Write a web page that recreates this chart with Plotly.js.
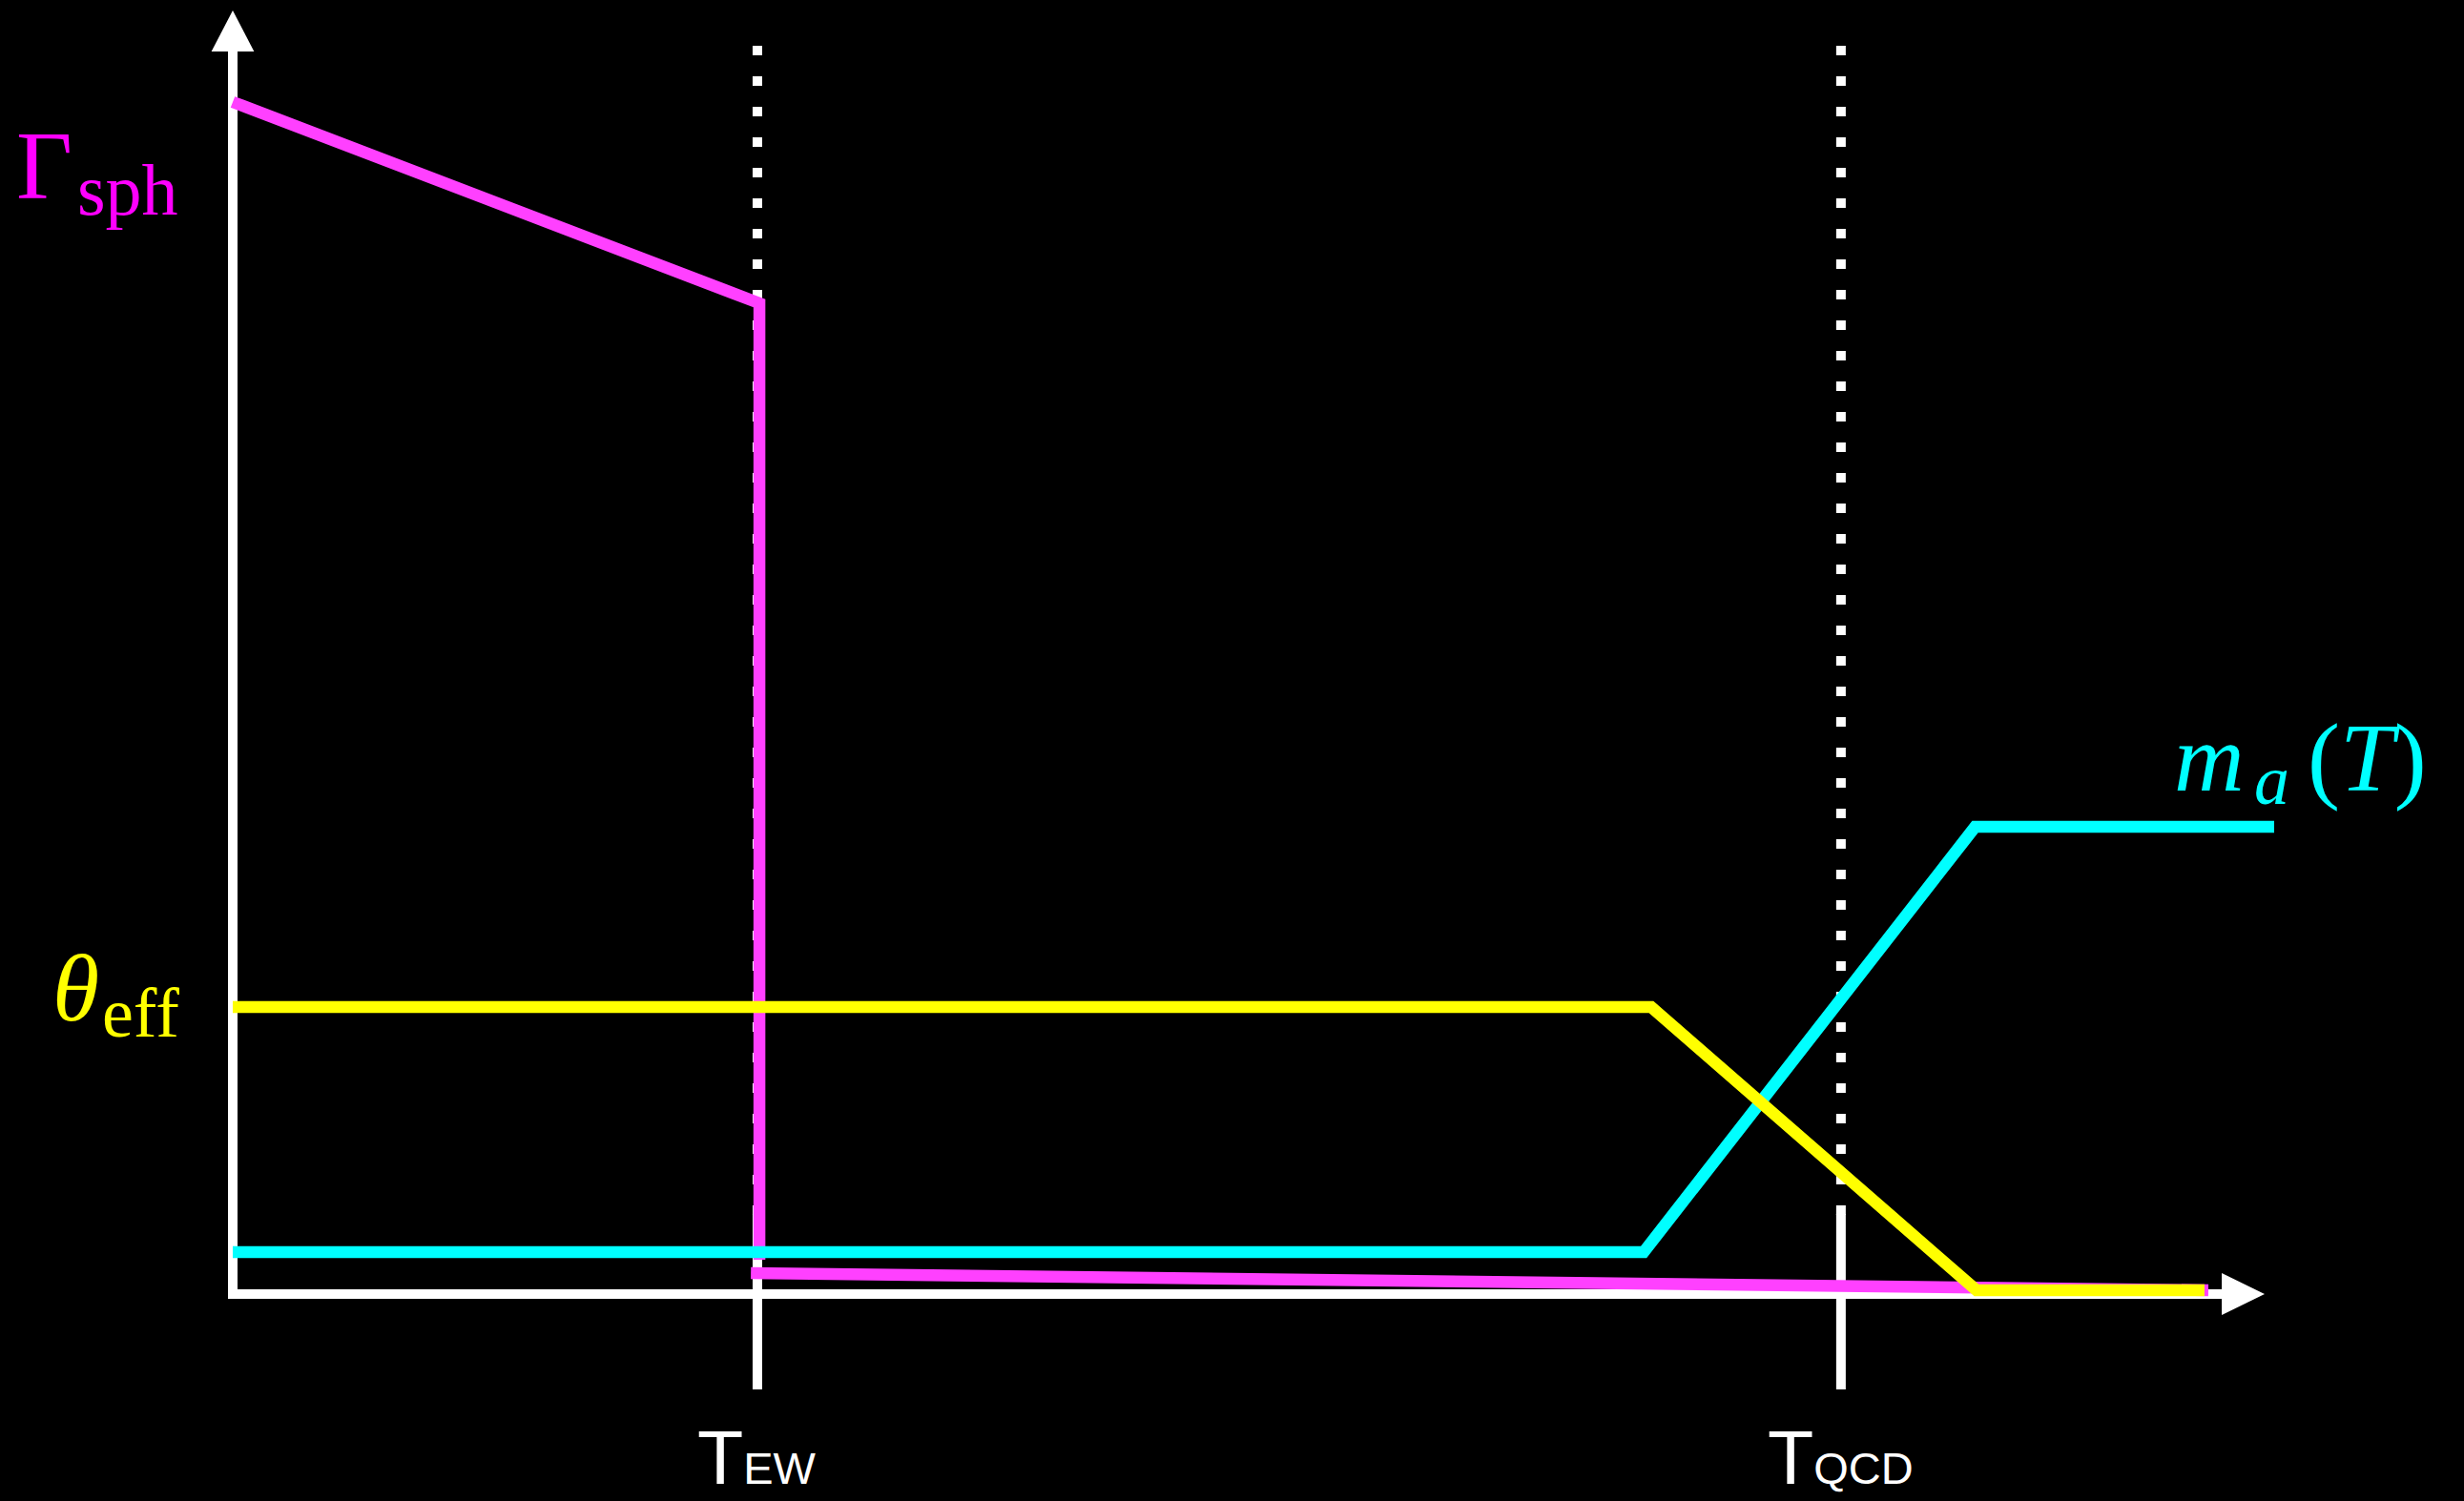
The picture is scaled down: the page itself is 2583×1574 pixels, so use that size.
<!DOCTYPE html>
<html>
<head>
<meta charset="utf-8">
<script src="https://cdn.plot.ly/plotly-3.0.1.min.js"></script>
<style>
  html, body { margin: 0; padding: 0; background: #000; }
  #chart { width: 2583px; height: 1574px; }
</style>
</head>
<body>
<div id="chart"></div>
<script>
// ---- data (arbitrary schematic units: axes run 0..100) ----
const sphHighX = [0, 25.92, 25.92];
const sphHighY = [92.87, 77.19, 2.67];
const sphLowX  = [25.5, 97.23];
const sphLowY  = [1.63, 0.30];

const massX = [0, 69.44, 85.75, 100.47];
const massY = [3.27, 3.27, 36.4, 36.4];

const thetaX = [0, 69.81, 85.82, 97.04];
const thetaY = [22.36, 22.36, 0.30, 0.30];

const tickVals = [25.82, 79.15];
const tickMain = ["T", "T"];
const tickSubs = ["EW", "QCD"];

// ---- styling ----
const MAGENTA = "#ff40ff";
const CYAN = "#00ffff";
const YELLOW = "#ffff00";
const LW = 12.5;

const traces = [
  {x: sphHighX, y: sphHighY, mode: "lines", line: {color: MAGENTA, width: LW}, hoverinfo: "skip"},
  {x: sphLowX, y: sphLowY, mode: "lines", line: {color: MAGENTA, width: LW}, hoverinfo: "skip"},
  {x: massX, y: massY, mode: "lines", line: {color: CYAN, width: LW}, hoverinfo: "skip"},
  {x: thetaX, y: thetaY, mode: "lines", line: {color: YELLOW, width: LW}, hoverinfo: "skip"}
];

const AX_END = 100;
const shapes = [
  // y axis stem + arrow head
  {type: "line", xref: "x", yref: "y", x0: 0, x1: 0, y0: -0.37, y1: 97.2, line: {color: "white", width: 10}, layer: "below"},
  {type: "path", xref: "x", yref: "y", path: "M -1.05,96.8 L 1.05,96.8 L 0," + AX_END + " Z", fillcolor: "white", line: {width: 0}, layer: "below"},
  // x axis stem + arrow head
  {type: "line", xref: "x", yref: "y", x0: -0.23, x1: 98.0, y0: 0, y1: 0, line: {color: "white", width: 10}, layer: "below"},
  {type: "path", xref: "x", yref: "y", path: "M 97.89,-1.64 L 97.89,1.64 L " + AX_END + ",0 Z", fillcolor: "white", line: {width: 0}, layer: "below"}
];
tickVals.forEach(v => {
  shapes.push({type: "line", xref: "x", yref: "y", x0: v, x1: v, y0: 97.25, y1: 6.17,
               line: {color: "white", width: 10, dash: "10px,22px"}, layer: "below"});
  shapes.push({type: "line", xref: "x", yref: "y", x0: v, x1: v, y0: 6.24, y1: -7.43,
               line: {color: "white", width: 10}, layer: "below"});
});

const W = 2583, H = 1574;
const py = p => 1 - p / H;
const px = p => p / W;
const serif = "Liberation Serif, Times New Roman, serif";

const annotations = [];
tickVals.forEach((v, i) => {
  annotations.push({
    x: v, xref: "x", y: 0, yref: "paper", xanchor: "center", yanchor: "bottom",
    showarrow: false, borderpad: 0,
    text: tickMain[i] + '<span style="font-size:47px">' + tickSubs[i] + '</span>',
    font: {family: "Liberation Sans, Arial, sans-serif", size: 79, color: "white"}
  });
});
function lab(text, xp, yp, size, color) {
  annotations.push({x: px(xp), xref: "paper", y: py(yp), yref: "paper", xanchor: "left", yanchor: "middle",
    showarrow: false, text: text, font: {family: serif, size: size, color: color}, borderpad: 0});
}
// Gamma_sph
lab("Γ", 16, 173, 102, "#ff00ff");
lab("sph", 80, 199, 76, "#ff00ff");
// theta_eff
lab("<i>θ</i>", 54, 1036, 100, YELLOW);
lab("eff", 106, 1062, 74, YELLOW);
// m_a(T)
lab("<i>m</i>", 2278, 794, 102, CYAN);
lab("<i>a</i>", 2362, 818, 74, CYAN);
lab("(<i>T</i>)", 2418, 794, 102, CYAN);

const layout = {
  width: W, height: H,
  margin: {l: 0, r: 0, t: 0, b: 0, pad: 0},
  paper_bgcolor: "#000", plot_bgcolor: "#000",
  showlegend: false,
  xaxis: {range: [-11.455, 109.813], visible: false, fixedrange: true},
  yaxis: {range: [-16.122, 100.817], visible: false, fixedrange: true},
  shapes: shapes,
  annotations: annotations
};

Plotly.newPlot("chart", traces, layout, {displayModeBar: false, staticPlot: true});
</script>
</body>
</html>
